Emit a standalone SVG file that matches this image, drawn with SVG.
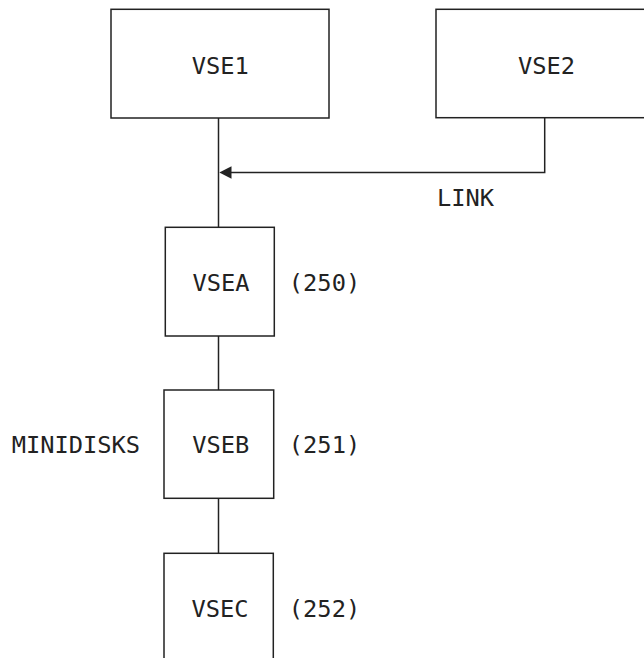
<svg xmlns="http://www.w3.org/2000/svg" width="644" height="658" viewBox="0 0 644 658">
<style>
.box{fill:#fff;stroke:#222;stroke-width:1.5}
.ln{fill:none;stroke:#222;stroke-width:1.5}
text{font-family:"DejaVu Sans Mono","Liberation Mono",monospace;font-size:23.7px;fill:#222;text-anchor:middle}
</style>
<defs>
<marker id="arr" viewBox="0 0 12 13" refX="0" refY="6.5" markerWidth="12" markerHeight="13" markerUnits="userSpaceOnUse" orient="auto-start-reverse">
<path d="M0,6.5 L12,0 L12,13 Z" fill="#222"/>
</marker>
</defs>
<rect width="644" height="658" fill="#fff"/>
<g id="connectors">
<line class="ln" x1="218.5" y1="118" x2="218.5" y2="227.3"/>
<line class="ln" x1="218.5" y1="336" x2="218.5" y2="390"/>
<line class="ln" x1="218.5" y1="498.3" x2="218.5" y2="553.3"/>
<path class="ln" d="M544.7,118 V172.5 H231" />
<path d="M219.3,172.5 L231.5,166.2 L231.5,178.8 Z" fill="#222"/>
<text x="465.5" y="205.7">LINK</text>
</g>
<g id="vse1"><rect class="box" x="111" y="9.3" width="218" height="108.7"/><text x="220.3" y="74">VSE1</text></g>
<g id="vse2"><rect class="box" x="436" y="9.3" width="240" height="108.4"/><text x="546.5" y="73.5">VSE2</text></g>
<g id="vsea"><rect class="box" x="165.3" y="227.3" width="109" height="108.7"/><text x="221" y="290.7">VSEA</text><text x="324.5" y="290.7">(250)</text></g>
<g id="vseb"><rect class="box" x="164" y="390" width="109.7" height="108.3"/><text x="220.8" y="453.3">VSEB</text><text x="324.5" y="453.3">(251)</text><text x="75.9" y="453.3">MINIDISKS</text></g>
<g id="vsec"><rect class="box" x="164" y="553.3" width="109.3" height="130"/><text x="220" y="616.7">VSEC</text><text x="324.5" y="616.7">(252)</text></g>
</svg>
